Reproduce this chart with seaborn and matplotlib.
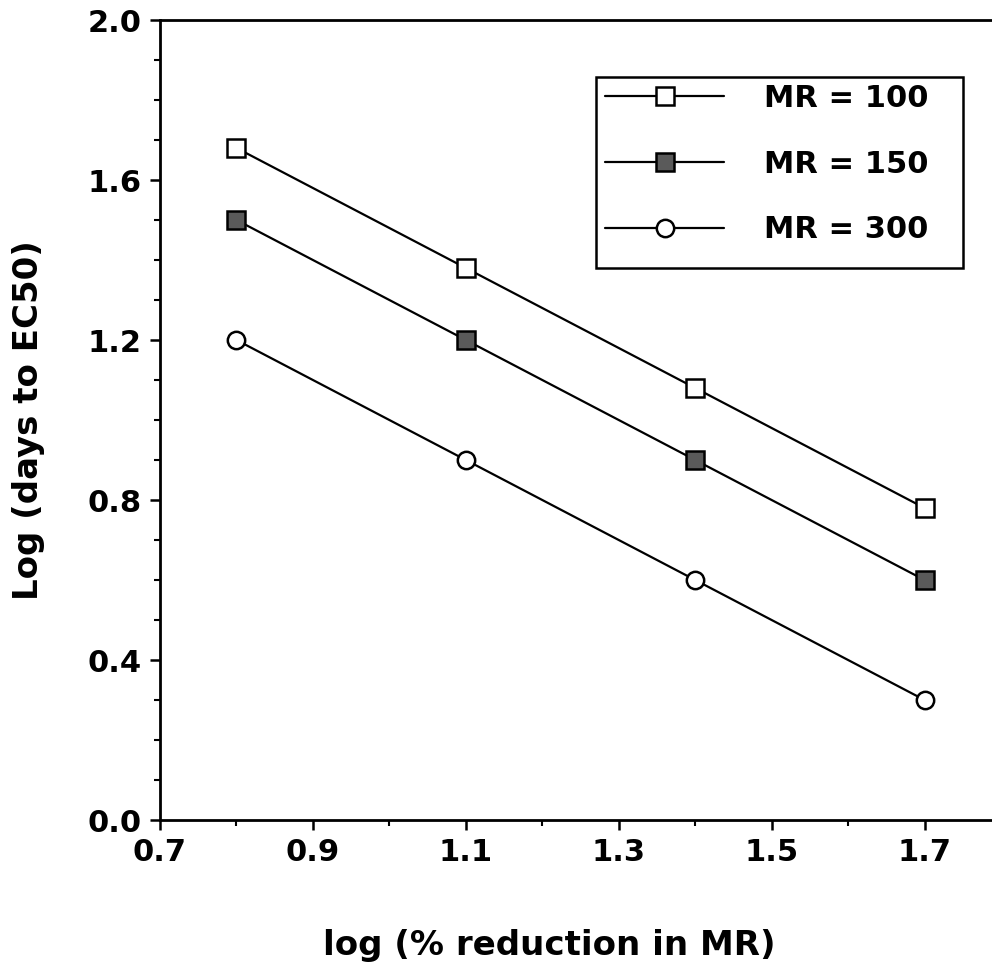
import pandas as pd
import matplotlib.pyplot as plt
import seaborn as sns
from matplotlib.ticker import MultipleLocator
from matplotlib.lines import Line2D
from matplotlib.patches import Rectangle

# values
log_reduction = [0.8, 1.1, 1.4, 1.7]
mr100 = [1.68, 1.38, 1.08, 0.78]
mr150 = [1.50, 1.20, 0.90, 0.60]
mr300 = [1.20, 0.90, 0.60, 0.30]
labels = ["MR = 100", "MR = 150", "MR = 300"]
xticks = [0.7, 0.9, 1.1, 1.3, 1.5, 1.7]
yticks = [0.0, 0.4, 0.8, 1.2, 1.6, 2.0]

df = pd.DataFrame({
    "x": log_reduction * 3,
    "y": mr100 + mr150 + mr300,
    "series": [labels[0]] * 4 + [labels[1]] * 4 + [labels[2]] * 4,
})

sns.set_style("ticks", {"axes.edgecolor": "black", "text.color": "black",
                        "axes.labelcolor": "black", "xtick.color": "black",
                        "ytick.color": "black"})
plt.rcParams['font.family'] = ['DejaVu Sans']
plt.rcParams['font.weight'] = 'bold'

W, H = 992, 980
fig = plt.figure(figsize=(W / 100, H / 100), dpi=100)
ax = fig.add_axes([160 / W, 160 / H, 841 / W, 800 / H])

styles = {
    labels[0]: dict(marker='s', mfc='white'),
    labels[1]: dict(marker='s', mfc='#5a5a5a'),
    labels[2]: dict(marker='o', mfc='white'),
}
mkw = dict(color='black', lw=1.6, markeredgecolor='black',
           markeredgewidth=1.8, markersize=12.5)

handles = []
for lab in labels:
    sub = df[df["series"] == lab]
    st = styles[lab]
    sns.lineplot(data=sub, x="x", y="y", ax=ax, marker=st['marker'],
                 markerfacecolor=st['mfc'], legend=False, **mkw)
    handles.append(Line2D([], [], marker=st['marker'],
                          markerfacecolor=st['mfc'], **mkw))

ax.set_xlim(0.7, 1.8)
ax.set_ylim(0.0, 2.0)
ax.xaxis.set_minor_locator(MultipleLocator(0.1))
ax.yaxis.set_minor_locator(MultipleLocator(0.1))
ax.set_xticks(xticks)
ax.set_xticklabels([f"{v:.1f}" for v in xticks])
ax.set_yticks(yticks)
ax.set_yticklabels([f"{v:.1f}" for v in yticks])

ax.tick_params(which='major', direction='out', length=7, width=1.8,
               labelsize=22, pad=6, colors='black')
ax.tick_params(which='minor', direction='out', length=4, width=1.5,
               colors='black')
for sp in ax.spines.values():
    sp.set_linewidth(2)
    sp.set_color('black')
    sp.set_visible(True)

ax.set_xlabel("log (% reduction in MR)", fontsize=24.5, fontweight='bold')
ax.set_ylabel("Log (days to EC50)", fontsize=24.5, fontweight='bold')
ax.xaxis.label.set_va('center')
ax.yaxis.label.set_va('center')
ax.xaxis.set_label_coords((549 - 160) / 841, (820 - 945) / 800)
ax.yaxis.set_label_coords((29 - 160) / 841, (820 - 420) / 800)

# legend entries without frame, box drawn separately
leg = ax.legend(handles, labels, loc='upper left',
                bbox_to_anchor=(605 / W, 1 - 84 / H),
                bbox_transform=fig.transFigure,
                frameon=False, prop={'size': 22, 'weight': 'bold'},
                handlelength=3.9, handletextpad=1.3, labelspacing=1.2,
                borderpad=0, borderaxespad=0)
fig.add_artist(Rectangle((596 / W, 1 - 268 / H), 367 / W, 191 / H,
                         transform=fig.transFigure, fill=False,
                         edgecolor='black', lw=1.8))

fig.savefig("out.png", dpi=100, facecolor='white')
